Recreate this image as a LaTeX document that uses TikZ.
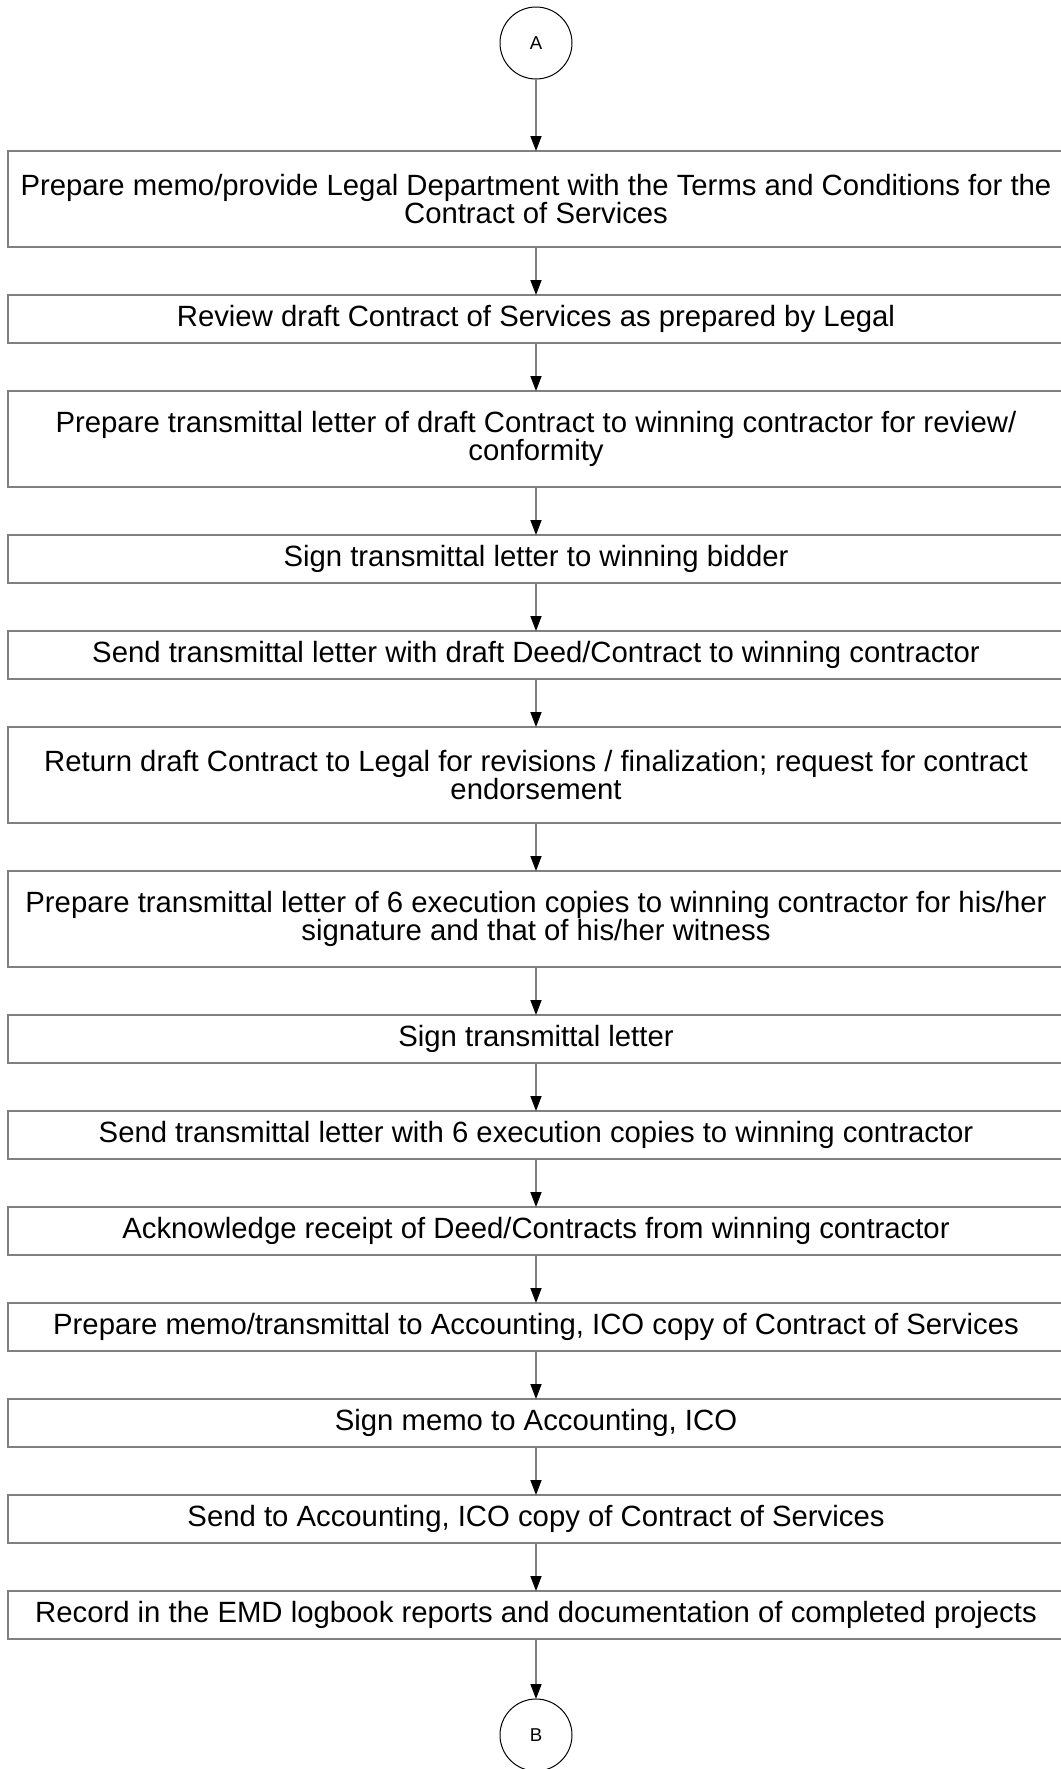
\documentclass[tikz,border=0pt]{standalone}
\usepackage{fontspec}
\setmainfont{Liberation Sans}
\usetikzlibrary{positioning,arrows.meta}

\tikzset{
  stepbox/.style={draw=black!50, line width=0.75pt, minimum width=528pt,
    minimum height=24pt, inner sep=3pt, outer sep=0pt, align=center,
    font=\fontsize{14.65}{14}\selectfont},
  stepboxtall/.style={stepbox, minimum height=48pt},
  connector/.style={draw=black, line width=0.5pt, circle, minimum size=36pt,
    inner sep=0pt, outer sep=0pt, font=\fontsize{9.3}{11}\selectfont},
  flow/.style={draw=black!50, line width=0.75pt,
    -{Triangle[length=7.5pt, width=5.5pt, black]}}
}

\begin{document}
\begin{tikzpicture}
  \useasboundingbox (0,0) rectangle (530.5pt,-884.5pt);

  % Off-page connector in
  \node[connector] (A) at (268pt,-21.5pt) {A};

  % Steps
  \node[stepboxtall, below=36pt of A] (s1) {Prepare memo/provide Legal Department with the Terms and Conditions for the\\Contract of Services};
  \node[stepbox, below=24pt of s1] (s2) {Review draft Contract of Services as prepared by Legal};
  \node[stepboxtall, below=24pt of s2] (s3) {Prepare transmittal letter of draft Contract to winning contractor for review/\\conformity};
  \node[stepbox, below=24pt of s3] (s4) {Sign transmittal letter to winning bidder};
  \node[stepbox, below=24pt of s4] (s5) {Send transmittal letter with draft Deed/Contract to winning contractor};
  \node[stepboxtall, below=24pt of s5] (s6) {Return draft Contract to Legal for revisions / finalization; request for contract\\endorsement};
  \node[stepboxtall, below=24pt of s6] (s7) {Prepare transmittal letter of 6 execution copies to winning contractor for his/her\\signature and that of his/her witness};
  \node[stepbox, below=24pt of s7] (s8) {Sign transmittal letter};
  \node[stepbox, below=24pt of s8] (s9) {Send transmittal letter with 6 execution copies to winning contractor};
  \node[stepbox, below=24pt of s9] (s10) {Acknowledge receipt of Deed/Contracts from winning contractor};
  \node[stepbox, below=24pt of s10] (s11) {Prepare memo/transmittal to Accounting, ICO copy of Contract of Services};
  \node[stepbox, below=24pt of s11] (s12) {Sign memo to Accounting, ICO};
  \node[stepbox, below=24pt of s12] (s13) {Send to Accounting, ICO copy of Contract of Services};
  \node[stepbox, below=24pt of s13] (s14) {Record in the EMD logbook reports and documentation of completed projects};

  % Off-page connector out
  \node[connector, below=30pt of s14] (B) {B};

  % Arrows
  \foreach \from/\to in {A/s1, s1/s2, s2/s3, s3/s4, s4/s5, s5/s6, s6/s7,
      s7/s8, s8/s9, s9/s10, s10/s11, s11/s12, s12/s13, s13/s14, s14/B}
    \draw[flow] (\from) -- (\to);
\end{tikzpicture}
\end{document}
